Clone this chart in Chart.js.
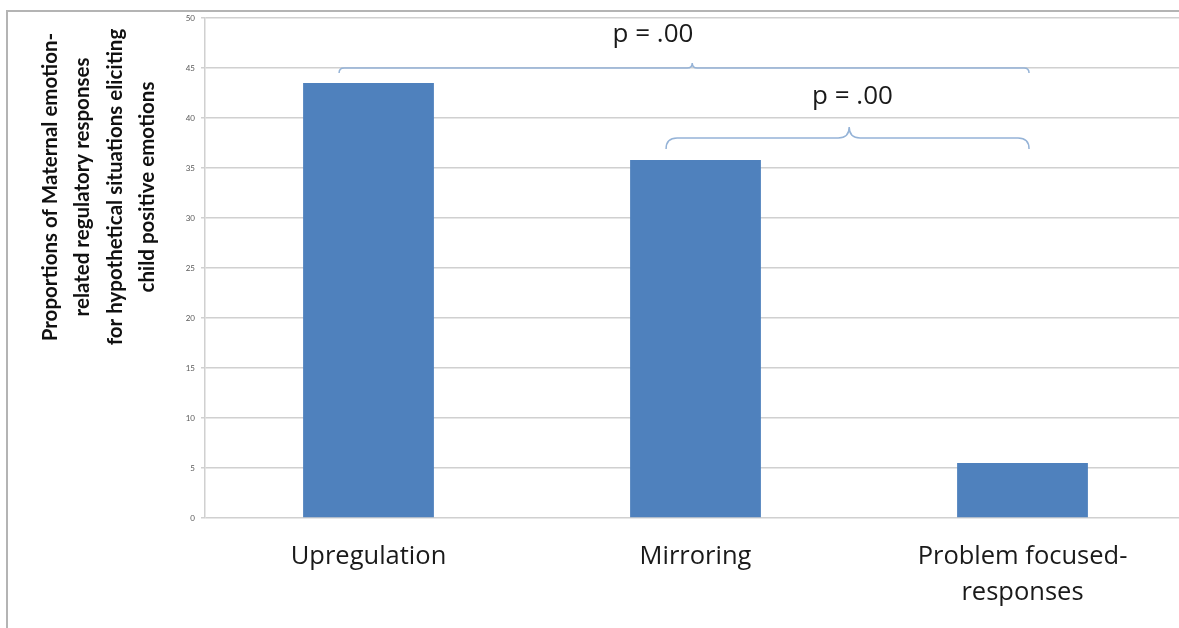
<!DOCTYPE html>
<html>
<head>
<meta charset="utf-8">
<script src="https://cdn.jsdelivr.net/npm/chart.js@4/dist/chart.umd.min.js"></script>
<style>
  html, body { margin: 0; padding: 0; background: #fff; overflow: hidden; width: 1179px; height: 628px; }
  #wrap { position: relative; width: 1179px; height: 628px; overflow: hidden; }
  #frame { position: absolute; left: 6px; top: 10px; width: 1200px; height: 700px;
           border-top: 2px solid #b4b4b4; border-left: 2px solid #b4b4b4; }
  canvas { position: absolute; left: 0; top: 0; }
</style>
</head>
<body>
<div id="wrap">
  <div id="frame"></div>
  <canvas id="chart" width="1190" height="628"></canvas>
</div>
<script>
// Response categories and the proportion of responses in each
const categories = ['Upregulation', 'Mirroring', ['Problem focused-', 'responses']];
const proportions = [43.5, 35.8, 5.5];

// Value axis range
const yMin = 0;
const yMax = 50;
const yStep = 5;

const axisTitleLines = [
  'Proportions of Maternal emotion-',
  'related regulatory responses',
  'for hypothetical situations eliciting',
  'child positive emotions'
];

// Pairwise comparisons: bracket span (category units), bracket level (value units), p-value text
const comparisonLabels = ['p = .00', 'p = .00'];
const comparisonFrom = [-0.09, 0.91];
const comparisonTo = [2.02, 2.02];
const comparisonTip = [0.99, 1.47];
const comparisonLevel = [45, 38];
const comparisonLabelAt = [0.87, 1.48];
const comparisonLabelLevel = [48.3, 42.1];

const LABEL_FONT = '"Open Sans", sans-serif';
const TITLE_FONT = 'Lato, "Open Sans", sans-serif';

function drawBrace(ctx, x1, x2, xm, y, h) {
  ctx.beginPath();
  ctx.moveTo(x1, y + h);
  ctx.quadraticCurveTo(x1, y, x1 + h, y);
  ctx.lineTo(xm - h, y);
  ctx.quadraticCurveTo(xm, y, xm, y - h);
  ctx.quadraticCurveTo(xm, y, xm + h, y);
  ctx.lineTo(x2 - h, y);
  ctx.quadraticCurveTo(x2, y, x2, y + h);
  ctx.stroke();
}

// Curly brackets with p-values above the bars
const comparisonPlugin = {
  id: 'comparisons',
  afterDatasetsDraw(chart) {
    const { ctx, scales: { x, y } } = chart;
    const braceHeights = [5, 11];
    ctx.save();
    ctx.strokeStyle = '#95b3d7';
    ctx.lineWidth = 1.5;
    for (let i = 0; i < comparisonLabels.length; i++) {
      drawBrace(ctx,
        x.getPixelForValue(comparisonFrom[i]),
        x.getPixelForValue(comparisonTo[i]),
        x.getPixelForValue(comparisonTip[i]),
        y.getPixelForValue(comparisonLevel[i]),
        braceHeights[i]);
      ctx.fillStyle = '#1a1a1a';
      ctx.font = '26px ' + LABEL_FONT;
      ctx.textAlign = 'center';
      ctx.textBaseline = 'middle';
      ctx.fillText(comparisonLabels[i],
        x.getPixelForValue(comparisonLabelAt[i]),
        y.getPixelForValue(comparisonLabelLevel[i]));
    }
    ctx.restore();
  }
};

// Multi-line rotated title for the value axis
const axisTitlePlugin = {
  id: 'axisTitle',
  afterDraw(chart) {
    const { ctx } = chart;
    const centerX = 99, centerY = 187, spacing = 32.5;
    ctx.save();
    ctx.fillStyle = '#111';
    ctx.font = 'bold 20.5px ' + TITLE_FONT;
    ctx.textAlign = 'center';
    ctx.textBaseline = 'middle';
    axisTitleLines.forEach((line, i) => {
      const cx = centerX + (i - (axisTitleLines.length - 1) / 2) * spacing;
      ctx.save();
      ctx.translate(cx, centerY);
      ctx.rotate(-Math.PI / 2);
      ctx.fillText(line, 0, 0);
      ctx.restore();
    });
    ctx.restore();
  }
};

new Chart(document.getElementById('chart'), {
  type: 'bar',
  data: {
    labels: categories,
    datasets: [{
      data: proportions,
      backgroundColor: '#4f81bd',
      borderWidth: 0,
      categoryPercentage: 0.4,
      barPercentage: 1.0
    }]
  },
  options: {
    responsive: false,
    animation: false,
    events: [],
    layout: { padding: { top: 18, right: 4, bottom: 0, left: 0 } },
    plugins: { legend: { display: false }, tooltip: { enabled: false } },
    scales: {
      x: {
        offset: true,
        grid: { display: false, drawTicks: false, tickLength: 0 },
        border: { display: false },
        ticks: {
          color: '#1a1a1a',
          font: { family: LABEL_FONT, size: 25.5, lineHeight: 1.4 },
          padding: 21,
          maxRotation: 0,
          autoSkip: false
        },
        afterFit(scale) { scale.height = 110; }
      },
      y: {
        min: yMin,
        max: yMax,
        ticks: {
          stepSize: yStep,
          color: '#595959',
          font: { family: TITLE_FONT, size: 8 },
          padding: 6
        },
        grid: { color: '#d0d0d0', lineWidth: 1.5, tickLength: 4 },
        border: { color: '#d0d0d0', width: 1.5 },
        afterFit(scale) { scale.width = 205; }
      }
    }
  },
  plugins: [comparisonPlugin, axisTitlePlugin]
});
</script>
</body>
</html>
